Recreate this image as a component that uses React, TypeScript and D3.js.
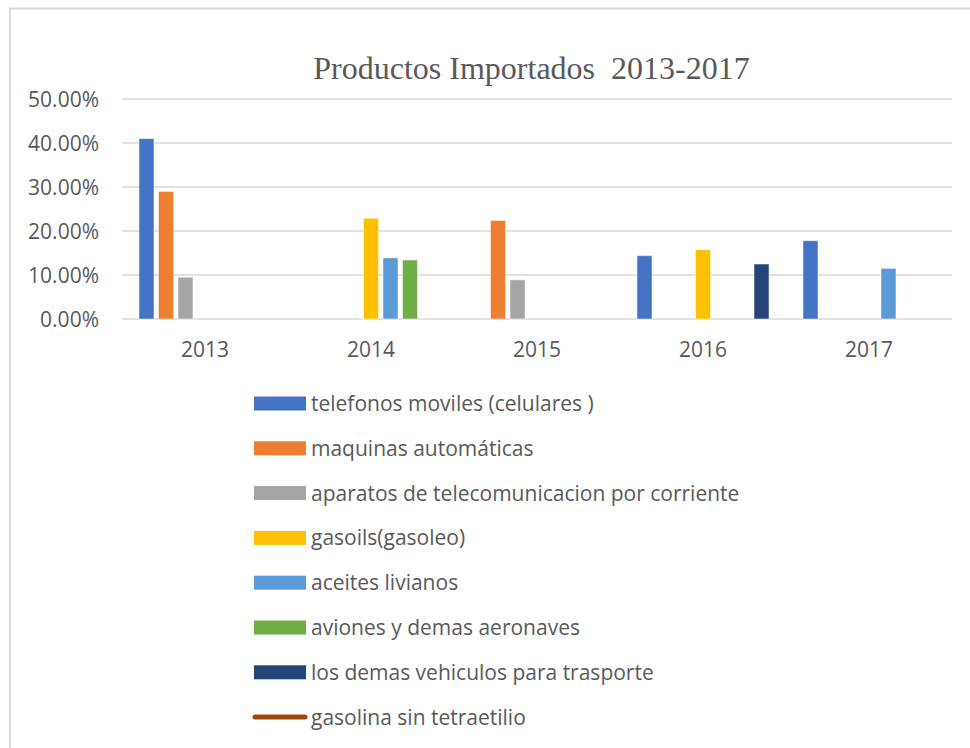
import React, { useEffect } from 'react';
import * as d3 from 'd3';

const years = ['2013', '2014', '2015', '2016', '2017'];

const barSeries = [
  'telefonos moviles (celulares )',
  'maquinas automáticas',
  'aparatos de telecomunicacion por corriente',
  'gasoils(gasoleo)',
  'aceites livianos',
  'aviones y demas aeronaves',
  'los demas vehiculos para trasporte',
];
const lineSeries = 'gasolina sin tetraetilio';

const telefonos = [0.41, null, null, 0.144, 0.178];
const maquinas = [0.29, null, 0.224, null, null];
const aparatos = [0.095, null, 0.089, null, null];
const gasoils = [null, 0.229, null, 0.1575, null];
const aceites = [null, 0.139, null, null, 0.115];
const aviones = [null, 0.134, null, null, null];
const demasVehiculos = [null, null, null, 0.125, null];
const gasolina: (number | null)[] = [null, null, null, null, null];

const barValues = [telefonos, maquinas, aparatos, gasoils, aceites, aviones, demasVehiculos];

const yTicks = [0, 0.1, 0.2, 0.3, 0.4, 0.5];

const colors = ['#4472C4', '#ED7D31', '#A5A5A5', '#FFC000', '#5B9BD5', '#70AD47', '#264478'];
const lineColor = '#9E480E';

const textColor = '#595959';
const gridColor = '#D9D9D9';
const font = '"Open Sans", sans-serif';

export default function App() {
  useEffect(() => {
    document.body.style.margin = '0';
  }, []);

  const width = 970;
  const height = 748;
  const plot = { left: 122, right: 952, top: 99, bottom: 319 };

  const x = d3.scaleBand<string>().domain(years).range([plot.left, plot.right]);
  const xs = d3
    .scaleBand<string>()
    .domain(barSeries)
    .range([0, x.bandwidth()])
    .paddingInner(0.23)
    .paddingOuter(0.87);
  const y = d3.scaleLinear().domain([0, 0.5]).range([plot.bottom, plot.top]);
  const fmt = d3.format('.2%');

  const line = d3
    .line<number | null>()
    .defined(d => d != null)
    .x((d, i) => (x(years[i]) as number) + x.bandwidth() / 2)
    .y(d => y(d as number));

  const legendTop = 403.5;
  const legendStep = 44.8;

  return (
    <svg width={width} height={height} style={{ display: 'block' }}>
      <rect x={10} y={8.5} width={990} height={780} fill="#fff" stroke={gridColor} strokeWidth={2} />
      <text
        x={531.5}
        y={79}
        textAnchor="middle"
        fontFamily='"Liberation Serif", "Times New Roman", serif'
        fontSize={32}
        fill={textColor}
        style={{ whiteSpace: 'pre' }}
      >
        {'Productos Importados  2013-2017'}
      </text>
      <g>
        {yTicks.map(t => (
          <g key={t}>
            <line x1={plot.left} x2={plot.right} y1={y(t)} y2={y(t)} stroke={gridColor} strokeWidth={1.5} />
            <text
              x={99}
              y={y(t)}
              dy="0.36em"
              textAnchor="end"
              fontFamily={font}
              fontSize={21}
              fill={textColor}
            >
              {fmt(t)}
            </text>
          </g>
        ))}
      </g>
      <g>
        {barValues.map((vals, si) =>
          vals.map((v, i) =>
            v == null ? null : (
              <rect
                key={`${si}-${i}`}
                x={(x(years[i]) as number) + (xs(barSeries[si]) as number)}
                y={y(v)}
                width={xs.bandwidth()}
                height={y(0) - y(v)}
                fill={colors[si]}
                stroke="#fff"
                strokeOpacity={0.5}
                strokeWidth={1}
              />
            )
          )
        )}
        <path d={line(gasolina) || ''} fill="none" stroke={lineColor} strokeWidth={2.25} />
      </g>
      <g>
        {years.map(yr => (
          <text
            key={yr}
            x={(x(yr) as number) + x.bandwidth() / 2}
            y={357}
            textAnchor="middle"
            fontFamily={font}
            fontSize={21}
            fill={textColor}
          >
            {yr}
          </text>
        ))}
      </g>
      <g>
        {barSeries.map((name, i) => (
          <g key={name} transform={`translate(0, ${legendTop + i * legendStep})`}>
            <rect x={254} y={-7} width={52} height={14} fill={colors[i]} />
            <text x={311} y={0} dy="0.36em" fontFamily={font} fontSize={21} fill={textColor}>
              {name}
            </text>
          </g>
        ))}
        <g transform={`translate(0, ${legendTop + barSeries.length * legendStep})`}>
          <line x1={255} x2={305} y1={0} y2={0} stroke={lineColor} strokeWidth={5} strokeLinecap="round" />
          <text x={311} y={0} dy="0.36em" fontFamily={font} fontSize={21} fill={textColor}>
            {lineSeries}
          </text>
        </g>
      </g>
    </svg>
  );
}
